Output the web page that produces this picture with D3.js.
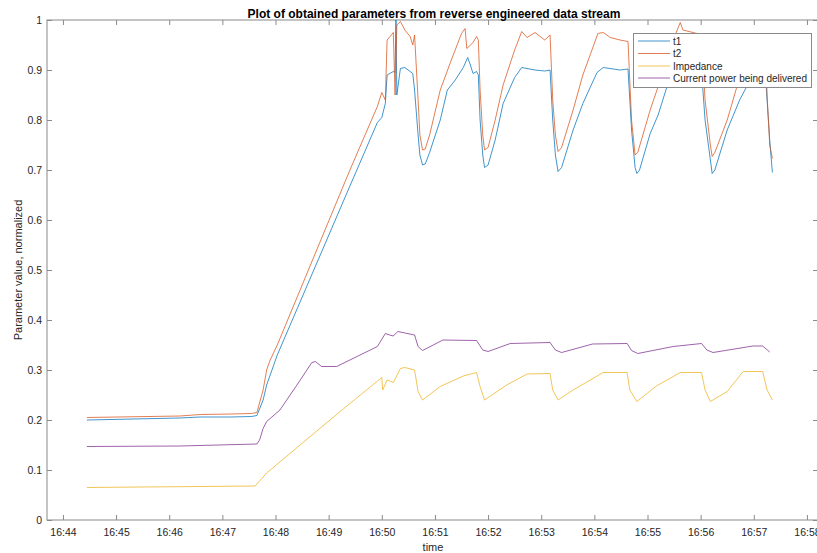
<!DOCTYPE html>
<html>
<head>
<meta charset="utf-8">
<script src="https://cdn.jsdelivr.net/npm/d3@7/dist/d3.min.js"></script>
<style>
  body { margin: 0; background: #fff; }
  text { font-family: "Liberation Sans", Arial, Helvetica, sans-serif; }
</style>
</head>
<body>
<svg width="817" height="553"></svg>
<script>
// data ([time, value])
let t1 = [
  ["16:44:27",0.200],["16:46:12",0.204],["16:46:35",0.206],["16:47:09",0.206],["16:47:33",0.207],
  ["16:47:39",0.209],["16:47:46",0.24],["16:47:50",0.27],["16:47:54",0.29],["16:48:02",0.33],
  ["16:49:24",0.668],["16:49:55",0.795],["16:50:00",0.805],["16:50:04",0.833],["16:50:06",0.89],
  ["16:50:13",0.897],["16:50:15",0.895],["16:50:16",1.0],["16:50:17",0.85],["16:50:21",0.903],
  ["16:50:26",0.905],["16:50:32",0.897],["16:50:35",0.893],["16:50:37",0.86],["16:50:41",0.77],
  ["16:50:43",0.73],["16:50:46",0.71],["16:50:49",0.712],["16:50:54",0.735],["16:51:06",0.80],
  ["16:51:14",0.86],["16:51:23",0.88],["16:51:32",0.905],["16:51:37",0.925],["16:51:40",0.91],
  ["16:51:43",0.893],["16:51:47",0.897],["16:51:49",0.89],["16:51:51",0.80],["16:51:54",0.73],
  ["16:51:56",0.705],["16:52:00",0.71],["16:52:08",0.76],["16:52:17",0.833],["16:52:30",0.885],
  ["16:52:38",0.905],["16:52:53",0.90],["16:53:04",0.898],["16:53:10",0.90],["16:53:13",0.80],
  ["16:53:16",0.73],["16:53:19",0.697],["16:53:23",0.705],["16:53:36",0.78],["16:53:47",0.833],
  ["16:54:03",0.895],["16:54:10",0.905],["16:54:29",0.90],["16:54:38",0.902],["16:54:42",0.78],
  ["16:54:46",0.705],["16:54:48",0.693],["16:54:51",0.70],["16:55:03",0.773],["16:55:12",0.81],
  ["16:55:22",0.867],["16:55:29",0.895],["16:55:40",0.90],["16:56:01",0.898],["16:56:05",0.80],
  ["16:56:11",0.72],["16:56:13",0.693],["16:56:16",0.70],["16:56:30",0.78],["16:56:44",0.84],
  ["16:56:56",0.88],["16:57:07",0.90],["16:57:13",0.895],["16:57:18",0.76],["16:57:21",0.695]
]

let t2 = [
  ["16:44:27",0.205],["16:46:12",0.208],["16:46:35",0.211],["16:47:09",0.212],["16:47:33",0.213],
  ["16:47:39",0.215],["16:47:46",0.26],["16:47:50",0.30],["16:47:54",0.32],["16:48:02",0.35],
  ["16:49:24",0.70],["16:49:55",0.827],["16:50:00",0.855],["16:50:04",0.84],["16:50:06",0.96],
  ["16:50:13",0.975],["16:50:15",0.85],["16:50:17",0.99],["16:50:21",0.997],["16:50:26",0.98],
  ["16:50:32",0.967],["16:50:35",0.95],["16:50:37",0.97],["16:50:41",0.84],["16:50:43",0.77],
  ["16:50:46",0.74],["16:50:49",0.742],["16:50:54",0.77],["16:51:06",0.86],["16:51:17",0.913],
  ["16:51:30",0.973],["16:51:34",0.983],["16:51:36",0.943],["16:51:43",0.955],["16:51:47",0.967],
  ["16:51:49",0.96],["16:51:51",0.86],["16:51:54",0.77],["16:51:56",0.74],["16:52:00",0.745],
  ["16:52:08",0.80],["16:52:17",0.87],["16:52:30",0.94],["16:52:38",0.977],["16:52:44",0.965],
  ["16:52:53",0.975],["16:53:04",0.96],["16:53:10",0.97],["16:53:13",0.84],["16:53:16",0.77],
  ["16:53:19",0.737],["16:53:23",0.745],["16:53:36",0.82],["16:53:47",0.89],["16:54:04",0.973],
  ["16:54:10",0.975],["16:54:18",0.965],["16:54:29",0.96],["16:54:38",0.957],["16:54:42",0.80],
  ["16:54:46",0.73],["16:54:49",0.735],["16:55:03",0.82],["16:55:12",0.867],["16:55:22",0.93],
  ["16:55:37",0.995],["16:55:40",0.98],["16:55:56",0.973],["16:56:01",0.97],["16:56:05",0.84],
  ["16:56:11",0.75],["16:56:13",0.727],["16:56:16",0.735],["16:56:30",0.80],["16:56:41",0.867],
  ["16:56:56",0.94],["16:57:07",0.97],["16:57:13",0.965],["16:57:15",0.85],["16:57:18",0.75],
  ["16:57:21",0.723]
]

let impedance = [
  ["16:44:27",0.065],["16:47:37",0.068],["16:47:50",0.094],["16:49:13",0.217],["16:50:00",0.285],
  ["16:50:01",0.26],["16:50:06",0.28],["16:50:13",0.275],["16:50:21",0.303],["16:50:26",0.305],
  ["16:50:37",0.30],["16:50:41",0.257],["16:50:46",0.24],["16:51:06",0.267],["16:51:32",0.288],
  ["16:51:47",0.295],["16:51:51",0.267],["16:51:56",0.24],["16:52:21",0.27],["16:52:44",0.292],
  ["16:53:10",0.293],["16:53:13",0.26],["16:53:19",0.24],["16:53:36",0.26],["16:54:10",0.295],
  ["16:54:37",0.295],["16:54:40",0.26],["16:54:48",0.237],["16:55:10",0.268],["16:55:37",0.295],
  ["16:56:01",0.295],["16:56:05",0.26],["16:56:11",0.237],["16:56:30",0.257],["16:56:48",0.297],
  ["16:57:10",0.297],["16:57:15",0.26],["16:57:21",0.24]
]

let power = [
  ["16:44:27",0.147],["16:46:12",0.148],["16:47:39",0.152],["16:47:42",0.16],["16:47:46",0.183],
  ["16:47:50",0.197],["16:48:05",0.22],["16:48:28",0.28],["16:48:41",0.315],["16:48:45",0.317],
  ["16:48:52",0.307],["16:49:09",0.307],["16:49:55",0.347],["16:50:04",0.373],["16:50:09",0.37],
  ["16:50:13",0.368],["16:50:18",0.377],["16:50:37",0.37],["16:50:41",0.347],["16:50:46",0.339],
  ["16:51:09",0.36],["16:51:47",0.359],["16:51:54",0.34],["16:52:00",0.337],["16:52:25",0.353],
  ["16:53:10",0.355],["16:53:16",0.34],["16:53:23",0.335],["16:53:58",0.352],["16:54:37",0.353],
  ["16:54:42",0.339],["16:54:49",0.333],["16:55:29",0.347],["16:56:01",0.353],["16:56:07",0.34],
  ["16:56:14",0.335],["16:56:59",0.348],["16:57:10",0.348],["16:57:18",0.336]
]

let seriesNames = ["t1", "t2", "Impedance", "Current power being delivered"]
let seriesColors = ["#0072BD", "#D95319", "#EDB120", "#7E2F8E"]
let xTickLabels = ["16:44","16:45","16:46","16:47","16:48","16:49","16:50","16:51","16:52","16:53","16:54","16:55","16:56","16:57","16:58"]
let yTickValues = [0, 0.1, 0.2, 0.3, 0.4, 0.5, 0.6, 0.7, 0.8, 0.9, 1]

// scales
let parseT = d3.timeParse("%H:%M:%S")
let plotL = 47, plotR = 818, plotT = 20, plotB = 520
let x = d3.scaleTime()
  .domain([parseT("16:43:42"), new Date(parseT("16:58:12").getTime() + 500)])
  .range([plotL, plotR])
let y = d3.scaleLinear().domain([0, 1]).range([plotB, plotT])

let svg = d3.select("svg")
let axisColor = "#262626"
let frameColor = "#8a8a8a"

// frame
svg.append("rect")
  .attr("x", plotL).attr("y", plotT)
  .attr("width", plotR - plotL).attr("height", plotB - plotT)
  .attr("fill", "none").attr("stroke", frameColor).attr("stroke-width", 1)

let xTicks = xTickLabels.map(s => d3.timeParse("%H:%M")(s))

// bottom axis
let gx = svg.append("g")
  .attr("transform", `translate(0, ${plotB})`)
  .call(d3.axisBottom(x).tickValues(xTicks).tickFormat(d3.timeFormat("%H:%M")).tickSizeInner(-5).tickSizeOuter(0).tickPadding(9))
gx.select(".domain").remove()
gx.selectAll("line").attr("stroke", frameColor)
gx.selectAll("text").attr("fill", axisColor).attr("font-size", 10.5)

// top ticks
let gxt = svg.append("g")
  .attr("transform", `translate(0, ${plotT})`)
  .call(d3.axisTop(x).tickValues(xTicks).tickFormat("").tickSizeInner(-5).tickSizeOuter(0))
gxt.select(".domain").remove()
gxt.selectAll("line").attr("stroke", frameColor)

// left axis
let gy = svg.append("g")
  .attr("transform", `translate(${plotL}, 0)`)
  .call(d3.axisLeft(y).tickValues(yTickValues).tickFormat(d3.format("~g")).tickSizeInner(-5).tickSizeOuter(0).tickPadding(5))
gy.select(".domain").remove()
gy.selectAll("line").attr("stroke", frameColor)
gy.selectAll("text").attr("fill", axisColor).attr("font-size", 10.5)

// right ticks
let gyr = svg.append("g")
  .attr("transform", `translate(${plotR}, 0)`)
  .call(d3.axisRight(y).tickValues(yTickValues).tickFormat("").tickSizeInner(-5).tickSizeOuter(0))
gyr.select(".domain").remove()
gyr.selectAll("line").attr("stroke", frameColor)

// lines
svg.append("clipPath").attr("id", "plotclip")
  .append("rect").attr("x", plotL).attr("y", plotT - 1).attr("width", plotR - plotL).attr("height", plotB - plotT + 1)

let line = d3.line()
  .x(d => x(parseT(d[0])))
  .y(d => y(d[1]))

let allSeries = [t1, t2, impedance, power]
let gLines = svg.append("g").attr("clip-path", "url(#plotclip)")
for (let i = 0; i < allSeries.length; i++) {
  gLines.append("path")
    .datum(allSeries[i])
    .attr("d", line)
    .attr("fill", "none")
    .attr("stroke", seriesColors[i])
    .attr("stroke-width", 0.75)
    .attr("stroke-linejoin", "round")
}

// title and labels
svg.append("text")
  .attr("x", 434).attr("y", 18)
  .attr("text-anchor", "middle")
  .attr("font-size", 12).attr("font-weight", "bold")
  .attr("fill", "#000")
  .text("Plot of obtained parameters from reverse engineered data stream")

svg.append("text")
  .attr("x", 433).attr("y", 551)
  .attr("text-anchor", "middle")
  .attr("font-size", 11).attr("fill", axisColor)
  .text("time")

svg.append("text")
  .attr("transform", "translate(22, 270) rotate(-90)")
  .attr("text-anchor", "middle")
  .attr("font-size", 11).attr("fill", axisColor)
  .text("Parameter value, normalized")

// legend
let legend = svg.append("g")
legend.append("rect")
  .attr("x", 633.5).attr("y", 33.5).attr("width", 178).attr("height", 54)
  .attr("fill", "#fff").attr("stroke", "#8a8a8a").attr("stroke-width", 1)
let rowY = [41, 53.5, 66, 78]
for (let i = 0; i < seriesNames.length; i++) {
  legend.append("line")
    .attr("x1", 638).attr("x2", 670)
    .attr("y1", rowY[i]).attr("y2", rowY[i])
    .attr("stroke", seriesColors[i]).attr("stroke-width", 0.75)
  legend.append("text")
    .attr("x", 673).attr("y", rowY[i])
    .attr("dy", "0.35em")
    .attr("font-size", 10).attr("fill", axisColor)
    .text(seriesNames[i])
}
</script>
</body>
</html>
